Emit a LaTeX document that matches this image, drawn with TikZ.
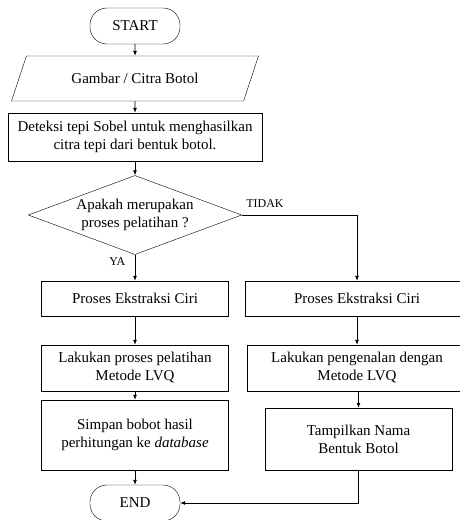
\documentclass[tikz,border=0pt]{standalone}
\usepackage{fontspec}
\setmainfont{Liberation Serif}
\usetikzlibrary{shapes.geometric, arrows.meta}
\tikzset{>={Latex[length=5pt,width=4pt]}}

\begin{document}
\begin{tikzpicture}[
    x = 1pt, y = -1pt,
    every node/.style = {font = \fontsize{15}{18}\selectfont, align = center},
    proc/.style = {draw, rectangle, inner sep = 0pt},
    term/.style = {draw, rectangle, rounded corners = 17pt, minimum width = 90pt, minimum height = 36pt},
    io/.style = {draw, trapezium, trapezium left angle = 62, trapezium right angle = 118, trapezium stretches = true, minimum width = 247pt, minimum height = 45pt},
    cond/.style = {draw, diamond, aspect = 2.7, inner sep = 1.5pt},
    ln/.style = {line width = 0.8pt},
    lbl/.style = {font = \fontsize{12}{14}\selectfont},
]

\useasboundingbox (0,0) rectangle (459,520);

\node[term] (start) at (135, 26) {START};
\node[io] (input) at (135, 78.5) {Gambar / Citra Botol};
\node[proc, minimum width = 254pt, minimum height = 48pt] (sobel) at (135, 137)
    {Deteksi tepi Sobel untuk menghasilkan\\ citra tepi dari bentuk botol.};
\node[cond] (train?) at (135, 215) {Apakah merupakan\\ proses pelatihan ?};

\node[proc, minimum width = 187pt, minimum height = 35pt] (extL) at (135, 298.5) {Proses Ekstraksi Ciri};
\node[proc, minimum width = 187pt, minimum height = 46pt] (lvqL) at (135, 368)
    {Lakukan proses pelatihan\\ Metode LVQ};
\node[proc, minimum width = 187pt, minimum height = 70pt] (save) at (135, 435)
    {Simpan bobot hasil\\ perhitungan ke \textit{database}};
\node[term] (end) at (135, 503) {END};

\node[proc, minimum width = 224pt, minimum height = 35pt] (extR) at (357, 298.5) {Proses Ekstraksi Ciri};
\node[proc, minimum width = 220pt, minimum height = 46pt] (lvqR) at (357, 368)
    {Lakukan pengenalan dengan\\ Metode LVQ};
\node[proc, minimum width = 187pt, minimum height = 62pt] (show) at (358.5, 439)
    {Tampilkan Nama\\ Bentuk Botol};

\draw[ln, ->] (start) -- (input);
\draw[ln, ->] (input) -- (sobel);
\draw[ln, ->] (sobel) -- (train?);
\draw[ln, ->] (train?.south) -- node[lbl, pos = 0.25, left = 6pt] {YA} (extL);
\draw[ln, ->] (train?.east) -| node[lbl, pos = 0.1, above = 4pt] {TIDAK} (extR.north);

\draw[ln, ->] (extL) -- (lvqL);
\draw[ln, ->] (lvqL) -- (save);
\draw[ln, ->] (save) -- (end);

\draw[ln, ->] (extR.south) -- (extR.south |- lvqR.north);
\draw[ln, ->] (lvqR.south -| show.north) -- (show.north);
\draw[ln, ->] (show.south) |- (end.east);

\end{tikzpicture}
\end{document}
